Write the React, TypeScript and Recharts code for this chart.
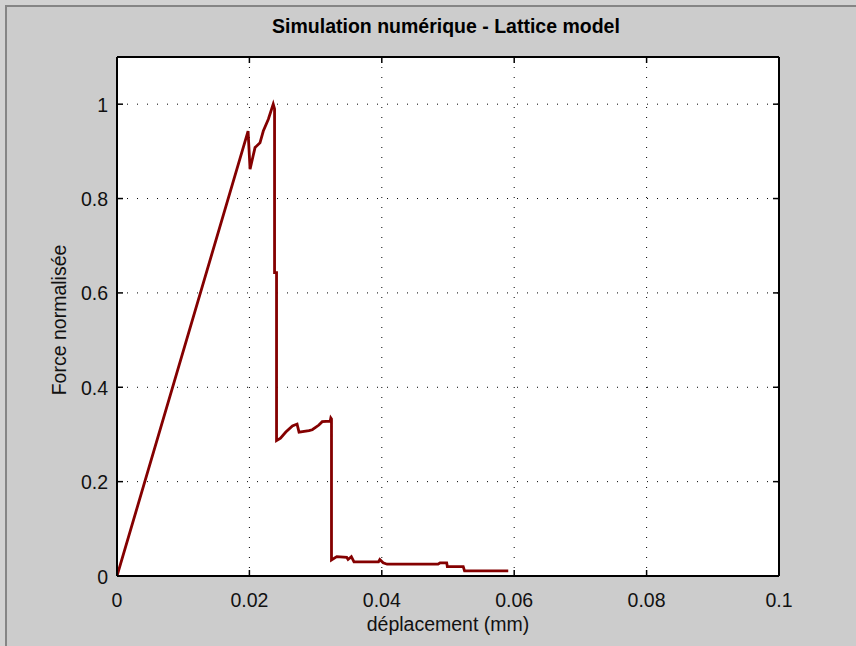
import React from "react";
import {
  LineChart,
  Line,
  XAxis,
  YAxis,
  CartesianGrid,
} from "recharts";

// displacement (mm)
const displacement = [
  0, 0.0198, 0.0201, 0.02085, 0.0216, 0.0221, 0.02286, 0.0236, 0.0238, 0.0238,
  0.0241, 0.0241, 0.0247, 0.0255, 0.0265, 0.0272, 0.0275, 0.029, 0.0295, 0.0305,
  0.031, 0.0322, 0.0323, 0.0324, 0.0324, 0.0332, 0.0347, 0.0349, 0.0354, 0.0358,
  0.0395, 0.0397, 0.0402, 0.0408, 0.0485, 0.0488, 0.0498, 0.0499, 0.0523, 0.0525,
  0.0591,
];

// normalised force
const force = [
  0, 0.943, 0.862, 0.908, 0.918, 0.943, 0.968, 1.0, 0.99, 0.643,
  0.643, 0.287, 0.292, 0.305, 0.318, 0.322, 0.305, 0.308, 0.31, 0.32,
  0.327, 0.328, 0.335, 0.333, 0.034, 0.041, 0.0395, 0.035, 0.041, 0.03,
  0.03, 0.035, 0.028, 0.025, 0.025, 0.028, 0.028, 0.02, 0.02, 0.011,
  0.011,
];

const xTicks = [0, 0.02, 0.04, 0.06, 0.08, 0.1];
const yTicks = [0, 0.2, 0.4, 0.6, 0.8, 1];

const title = "Simulation numérique - Lattice model";
const xLabel = "déplacement (mm)";
const yLabel = "Force normalisée";

const data = displacement.map((d, i) => ({ d, f: force[i] }));

const FONT = "'Liberation Sans', Arial, Helvetica, sans-serif";
const TICK = 6;

const BottomTick = (p: any) => (
  <g>
    <line x1={p.x} y1={p.y} x2={p.x} y2={p.y - TICK} stroke="#000" strokeWidth={1.5} />
    <text x={p.x} y={p.y + 31} textAnchor="middle" fontSize={19.5} fontFamily={FONT} fill="#111">
      {String(p.payload.value)}
    </text>
  </g>
);

const TopTick = (p: any) => (
  <line x1={p.x} y1={p.y} x2={p.x} y2={p.y + TICK} stroke="#000" strokeWidth={1.5} />
);

const LeftTick = (p: any) => (
  <g>
    <line x1={p.x} y1={p.y} x2={p.x + TICK} y2={p.y} stroke="#000" strokeWidth={1.5} />
    <text x={p.x - 9} y={p.y + 7.5} textAnchor="end" fontSize={19.5} fontFamily={FONT} fill="#111">
      {String(p.payload.value)}
    </text>
  </g>
);

const RightTick = (p: any) => (
  <line x1={p.x} y1={p.y} x2={p.x - TICK} y2={p.y} stroke="#000" strokeWidth={1.5} />
);

export default function App() {
  return (
    <div
      style={{
        position: "absolute",
        left: 0,
        top: 0,
        width: 856,
        height: 646,
        background: "#d2d2d2",
      }}
    >
      <div
        style={{
          position: "absolute",
          left: 5,
          top: 5,
          right: 0,
          bottom: 0,
          background: "#cccccc",
          borderTop: "2px solid #858585",
          borderLeft: "2px solid #858585",
        }}
      />
      <LineChart
        width={856}
        height={646}
        data={data}
        margin={{ top: 56, right: 76, bottom: 69, left: 116 }}
        style={{ position: "absolute", left: 0, top: 0 }}
      >
        <CartesianGrid
          xAxisId="b"
          yAxisId="l"
          fill="#ffffff"
          stroke="#000"
          strokeDasharray="1 9"
          strokeWidth={1}
        />
        <XAxis
          xAxisId="b"
          dataKey="d"
          type="number"
          domain={[0, 0.1]}
          ticks={xTicks}
          height={1}
          tickSize={0}
          tickMargin={0}
          tickLine={false}
          axisLine={{ stroke: "#000", strokeWidth: 2 }}
          tick={BottomTick}
          interval={0}
          allowDataOverflow
        />
        <XAxis
          xAxisId="t"
          orientation="top"
          dataKey="d"
          type="number"
          domain={[0, 0.1]}
          ticks={xTicks}
          height={1}
          tickSize={0}
          tickMargin={0}
          tickLine={false}
          axisLine={{ stroke: "#000", strokeWidth: 2 }}
          tick={TopTick}
          interval={0}
          allowDataOverflow
        />
        <YAxis
          yAxisId="l"
          type="number"
          domain={[0, 1.1]}
          ticks={yTicks}
          width={1}
          tickSize={0}
          tickMargin={0}
          tickLine={false}
          axisLine={{ stroke: "#000", strokeWidth: 2 }}
          tick={LeftTick}
          interval={0}
          allowDataOverflow
        />
        <YAxis
          yAxisId="r"
          orientation="right"
          type="number"
          domain={[0, 1.1]}
          ticks={yTicks}
          width={1}
          tickSize={0}
          tickMargin={0}
          tickLine={false}
          axisLine={{ stroke: "#000", strokeWidth: 2 }}
          tick={RightTick}
          interval={0}
          allowDataOverflow
        />
        <Line
          xAxisId="b"
          yAxisId="l"
          dataKey="f"
          type="linear"
          stroke="#840000"
          strokeWidth={2.8}
          dot={false}
          activeDot={false}
          isAnimationActive={false}
        />
        <text x={446} y={33} textAnchor="middle" fontSize={19.5} fontWeight="bold" fontFamily={FONT} fill="#000">
          {title}
        </text>
        <text x={448} y={631} textAnchor="middle" fontSize={19.5} fontFamily={FONT} fill="#111">
          {xLabel}
        </text>
        <text
          x={66}
          y={320}
          textAnchor="middle"
          fontSize={19.5}
          fontFamily={FONT}
          fill="#111"
          transform="rotate(-90 66 320)"
        >
          {yLabel}
        </text>
      </LineChart>
    </div>
  );
}
